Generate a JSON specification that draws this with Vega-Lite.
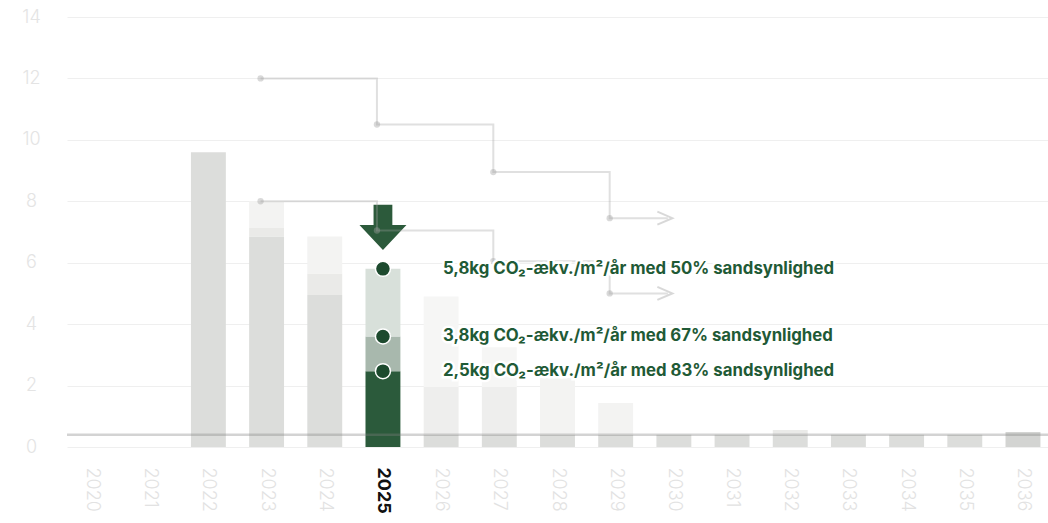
{
  "$schema": "https://vega.github.io/schema/vega-lite/v6.json",
  "width": 981,
  "height": 430,
  "autosize": "none",
  "padding": {"left": 67, "top": 17, "right": 0, "bottom": 76},
  "background": "white",
  "config": {"view": {"stroke": null}},
  "datasets": {
    "bars": [
      {"year": "2022", "lo": 0, "hi": 9.6, "tone": "base"},
      {"year": "2023", "lo": 0, "hi": 6.85, "tone": "base"},
      {"year": "2023", "lo": 6.85, "hi": 7.13, "tone": "mid"},
      {"year": "2023", "lo": 7.13, "hi": 8.0, "tone": "light"},
      {"year": "2024", "lo": 0, "hi": 4.95, "tone": "base"},
      {"year": "2024", "lo": 4.95, "hi": 5.65, "tone": "mid"},
      {"year": "2024", "lo": 5.65, "hi": 6.85, "tone": "light"},
      {"year": "2025", "lo": 0, "hi": 2.47, "tone": "g1"},
      {"year": "2025", "lo": 2.47, "hi": 3.6, "tone": "g2"},
      {"year": "2025", "lo": 3.6, "hi": 5.8, "tone": "g3"},
      {"year": "2026", "lo": 0, "hi": 0.4, "tone": "base"},
      {"year": "2026", "lo": 0.4, "hi": 1.95, "tone": "mid2"},
      {"year": "2026", "lo": 1.95, "hi": 4.9, "tone": "light2"},
      {"year": "2027", "lo": 0, "hi": 0.4, "tone": "base"},
      {"year": "2027", "lo": 0.4, "hi": 1.95, "tone": "mid2"},
      {"year": "2027", "lo": 1.95, "hi": 3.25, "tone": "light2"},
      {"year": "2028", "lo": 0, "hi": 0.4, "tone": "base"},
      {"year": "2028", "lo": 0.4, "hi": 2.25, "tone": "light"},
      {"year": "2029", "lo": 0, "hi": 0.4, "tone": "base"},
      {"year": "2029", "lo": 0.4, "hi": 1.43, "tone": "light"},
      {"year": "2030", "lo": 0, "hi": 0.4, "tone": "base"},
      {"year": "2031", "lo": 0, "hi": 0.4, "tone": "base"},
      {"year": "2032", "lo": 0, "hi": 0.4, "tone": "base"},
      {"year": "2032", "lo": 0.4, "hi": 0.55, "tone": "mid"},
      {"year": "2033", "lo": 0, "hi": 0.4, "tone": "base"},
      {"year": "2034", "lo": 0, "hi": 0.4, "tone": "base"},
      {"year": "2035", "lo": 0, "hi": 0.4, "tone": "base"},
      {"year": "2036", "lo": 0, "hi": 0.49, "tone": "dark"}
    ],
    "steps": [
      {"series": "a", "year": "2023", "v": 12.0},
      {"series": "a", "year": "2025", "v": 10.5},
      {"series": "a", "year": "2027", "v": 8.95},
      {"series": "a", "year": "2029", "v": 7.45},
      {"series": "a", "year": "2030", "v": 7.45},
      {"series": "b", "year": "2023", "v": 8.0},
      {"series": "b", "year": "2025", "v": 7.05},
      {"series": "b", "year": "2027", "v": 6.05},
      {"series": "b", "year": "2029", "v": 5.0},
      {"series": "b", "year": "2030", "v": 5.0}
    ],
    "marks2025": [
      {"year": "2025", "v": 5.8, "label": "5,8kg CO₂-ækv./m²/år med 50% sandsynlighed"},
      {"year": "2025", "v": 3.6, "label": "3,8kg CO₂-ækv./m²/år med 67% sandsynlighed"},
      {"year": "2025", "v": 2.47, "label": "2,5kg CO₂-ækv./m²/år med 83% sandsynlighed"}
    ],
    "arrow": [{"year": "2025", "v": 7.15}],
    "baseline": [{"v": 0.4}]
  },
  "layer": [
    {
      "data": {"name": "bars"},
      "mark": {"type": "bar"},
      "encoding": {
        "x": {
          "field": "year", "type": "ordinal",
          "scale": {"domain": ["2020","2021","2022","2023","2024","2025","2026","2027","2028","2029","2030","2031","2032","2033","2034","2035","2036"], "paddingInner": 0.4, "paddingOuter": 0.13},
          "axis": {
            "title": null, "labelAngle": 90, "labelPadding": 20, "ticks": false, "tickSize": 0, "domain": false, "grid": false,
            "labelFont": "Inter", "labelFontSize": 18,
            "labelFontWeight": {"condition": {"test": "datum.value == '2025'", "value": "bold"}, "value": 300},
            "labelColor": {"condition": {"test": "datum.value == '2025'", "value": "#111111"}, "value": "#e2e2e2"}
          }
        },
        "y": {
          "field": "lo", "type": "quantitative",
          "scale": {"domain": [0, 14], "nice": false},
          "axis": {
            "title": null, "values": [0,2,4,6,8,10,12,14], "ticks": false, "tickSize": 0, "domain": false,
            "labelPadding": 36, "labelAlign": "center", "labelFont": "Inter", "labelFontSize": 18, "labelFontWeight": 300,
            "labelColor": "#e4e4e4", "gridColor": "#efefef", "gridWidth": 1
          }
        },
        "y2": {"field": "hi"},
        "color": {
          "field": "tone", "type": "nominal", "legend": null,
          "scale": {
            "domain": ["base", "mid", "light", "mid2", "light2", "dark", "g1", "g2", "g3"],
            "range": ["#dcdddb", "#eaeae8", "#f3f3f2", "#eeeeed", "#f6f6f5", "#d3d4d2", "#2b5a3b", "#a8b8ad", "#d8e0da"]
          }
        }
      }
    },
    {
      "data": {"name": "arrow"},
      "mark": {"type": "point", "shape": "M -0.4 -0.96 L 0.4 -0.96 L 0.4 -0.1 L 1 -0.1 L 0 0.96 L -1 -0.1 L -0.4 -0.1 Z", "size": 2209, "filled": true, "color": "#2c5a3b", "opacity": 1},
      "encoding": {
        "x": {"field": "year", "type": "ordinal"},
        "y": {"field": "v", "type": "quantitative"}
      }
    },
    {
      "data": {"name": "baseline"},
      "mark": {"type": "rule", "color": "#808080", "opacity": 0.35, "strokeWidth": 2.5},
      "encoding": {"y": {"field": "v", "type": "quantitative"}}
    },
    {
      "data": {"name": "steps"},
      "mark": {"type": "line", "interpolate": "step-after", "color": "#a0a0a0", "opacity": 0.33, "strokeWidth": 2, "xOffset": -6},
      "encoding": {
        "x": {"field": "year", "type": "ordinal"},
        "y": {"field": "v", "type": "quantitative"},
        "detail": {"field": "series"}
      }
    },
    {
      "data": {"name": "steps"},
      "transform": [{"filter": "datum.year != '2030'"}],
      "mark": {"type": "circle", "color": "#a0a0a0", "opacity": 0.4, "size": 40, "xOffset": -6},
      "encoding": {
        "x": {"field": "year", "type": "ordinal"},
        "y": {"field": "v", "type": "quantitative"}
      }
    },
    {
      "data": {"name": "steps"},
      "transform": [{"filter": "datum.year == '2030'"}],
      "mark": {"type": "point", "shape": "M -1 -0.87 L 1 0 L -1 0.87", "size": 225, "filled": false, "color": "#a0a0a0", "opacity": 0.4, "strokeWidth": 2, "xOffset": -9},
      "encoding": {
        "x": {"field": "year", "type": "ordinal"},
        "y": {"field": "v", "type": "quantitative"}
      }
    },
    {
      "data": {"name": "marks2025"},
      "mark": {"type": "circle", "size": 225, "color": "#1d4a2e", "opacity": 1, "stroke": "white", "strokeWidth": 1.5},
      "encoding": {
        "x": {"field": "year", "type": "ordinal"},
        "y": {"field": "v", "type": "quantitative"}
      }
    },
    {
      "data": {"name": "marks2025"},
      "mark": {"type": "text", "align": "left", "baseline": "middle", "dx": 60, "font": "Inter", "fontSize": 16.8, "fontWeight": "bold", "color": "white", "stroke": "white", "strokeWidth": 5},
      "encoding": {
        "x": {"field": "year", "type": "ordinal"},
        "y": {"field": "v", "type": "quantitative"},
        "text": {"field": "label"}
      }
    },
    {
      "data": {"name": "marks2025"},
      "mark": {"type": "text", "align": "left", "baseline": "middle", "dx": 60, "font": "Inter", "fontSize": 16.8, "fontWeight": "bold", "color": "#1f5a36"},
      "encoding": {
        "x": {"field": "year", "type": "ordinal"},
        "y": {"field": "v", "type": "quantitative"},
        "text": {"field": "label"}
      }
    }
  ]
}
